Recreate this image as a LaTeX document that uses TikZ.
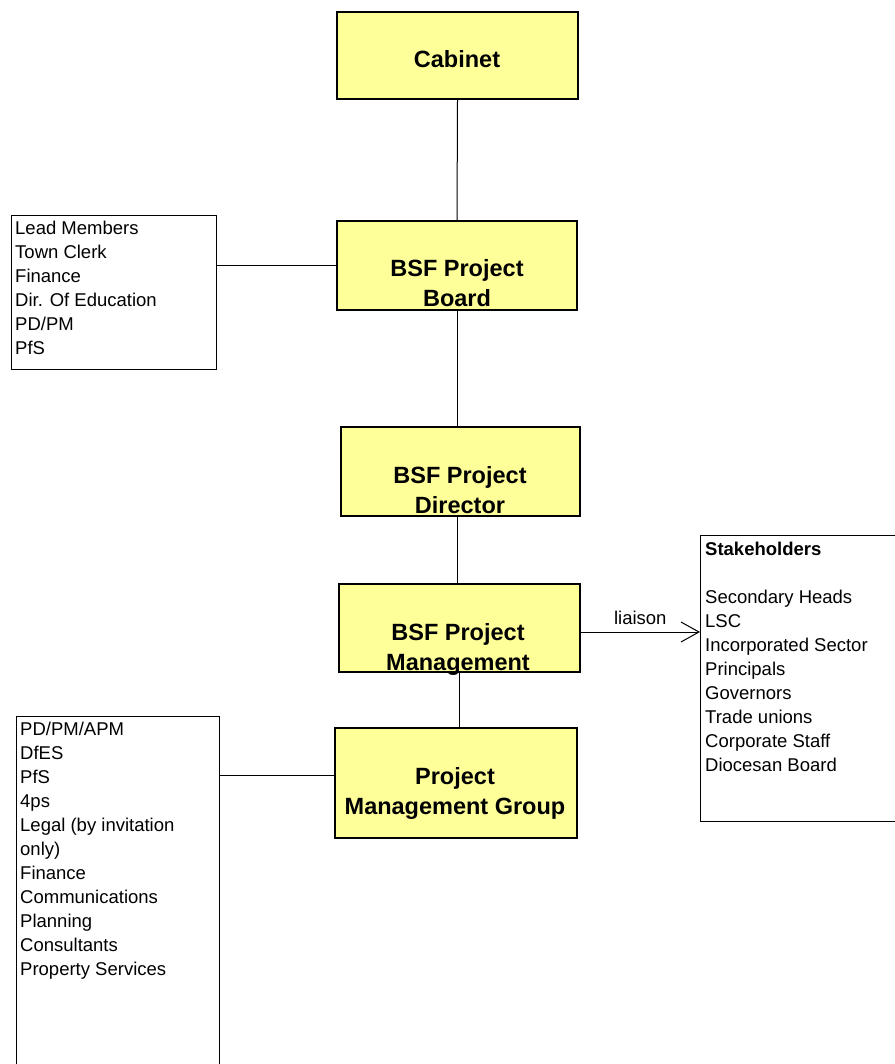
\documentclass[tikz,border=0pt]{standalone}
\usepackage{fontspec}
\setmainfont{Liberation Sans}
\usetikzlibrary{arrows.meta}
\definecolor{unityellow}{HTML}{FFFF99}
\begin{document}
\begin{tikzpicture}[x=1pt, y=-1pt,
  unit/.style={draw, line width=2pt, fill=unityellow, inner sep=0pt},
  unittext/.style={font=\fontsize{23.5}{30}\selectfont\bfseries, align=center, anchor=north, inner sep=0pt},
  listbox/.style={draw, line width=1pt, anchor=north west, inner sep=0pt},
  listtext/.style={font=\fontsize{18.5}{24}\selectfont, align=left, anchor=north west, inner sep=0pt},
  link/.style={line width=1pt}]
  \useasboundingbox (0,0) rectangle (894,1064);
  % the chain of yellow boxes
  \node[unit, minimum width=241pt, minimum height=87pt] (cabinet) at (457.5,55.5) {};
  \node[unit, minimum width=240pt, minimum height=89pt] (board) at (457,265.5) {};
  \node[unit, minimum width=239pt, minimum height=89pt] (director) at (460.5,471.5) {};
  \node[unit, minimum width=241pt, minimum height=88pt] (mgmt) at (459,628) {};
  \node[unit, minimum width=242pt, minimum height=110pt] (group) at (455.5,783) {};
  \node[unittext] (cabinet-text) at (457,50) {Cabinet};
  \node[unittext] (board-text) at (457,259) {BSF Project\\Board};
  \node[unittext] (director-text) at (460,466) {BSF Project\\Director};
  \node[unittext] (mgmt-text) at (458,623) {BSF Project\\Management};
  \node[unittext] (group-text) at (455,767) {Project\\Management Group};
  % the lists
  \node[listbox, minimum width=205pt, minimum height=154pt] (board-list) at (11,215) {};
  \node[listtext] (board-list-text) at (15,221) {Lead Members\\Town Clerk\\Finance\\Dir. Of Education\\PD/PM\\PfS};
  \node[listbox, minimum width=203pt, minimum height=360pt] (group-list) at (16,716) {};
  \node[listtext] (group-list-text) at (20,722) {PD/PM/APM\\DfES\\PfS\\4ps\\Legal (by invitation\\only)\\Finance\\Communications\\Planning\\Consultants\\Property Services};
  \node[listbox, minimum width=220pt, minimum height=286pt] (stake) at (700,535) {};
  \node[listtext] (stake-text) at (705,542) {\textbf{Stakeholders}\\[24pt]Secondary Heads\\LSC\\Incorporated Sector\\Principals\\Governors\\Trade unions\\Corporate Staff\\Diocesan Board};
  % connectors
  \draw[link] (cabinet.south) -- (board.north);
  \draw[link] (board.south) -- (board.south |- director.north);
  \draw[link] (director.south -| board.south) -- (mgmt.north -| board.south);
  \draw[link] (mgmt.south) -- (mgmt.south |- group.north);
  \draw[link] (board-list.east |- board.west) -- (board.west);
  \draw[link] ([yshift=8pt]group.west) -- ([yshift=8pt]group.west -| group-list.east);
  \draw[link, -{Straight Barb[length=18pt, width=20pt, line width=1pt]}] ([yshift=-4pt]mgmt.east) -- ([yshift=-4pt]mgmt.east -| stake.west)
    node[midway, above=3pt, font=\fontsize{18.5}{24}\selectfont] (liaison) {liaison};
\end{tikzpicture}
\end{document}
